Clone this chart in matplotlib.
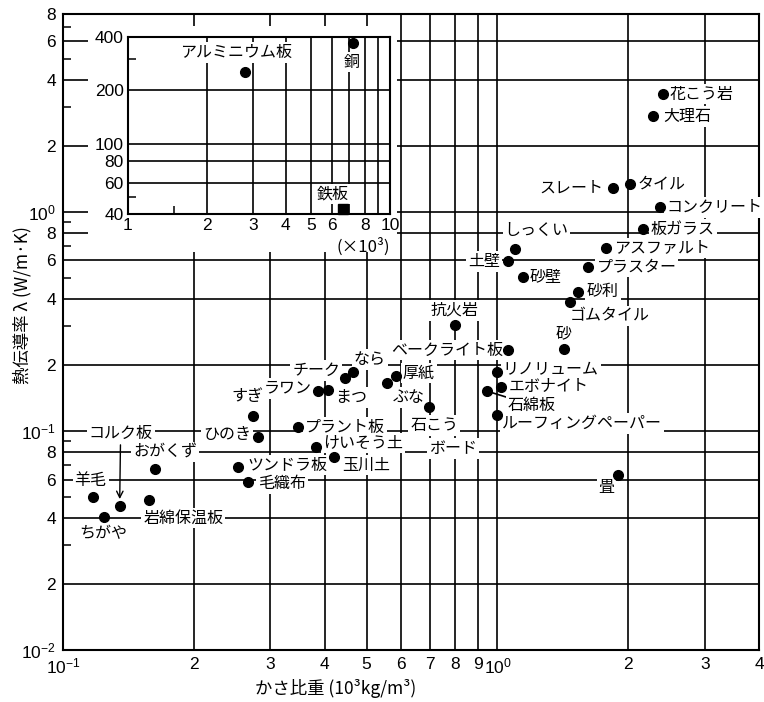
import matplotlib
matplotlib.use('Agg')
import matplotlib.pyplot as plt
from matplotlib.patches import Rectangle
from matplotlib.ticker import FixedLocator, NullFormatter

plt.rcParams['font.family'] = ['Noto Sans CJK JP', 'DejaVu Sans']
plt.rcParams['mathtext.fontset'] = 'custom'
plt.rcParams['mathtext.rm'] = 'Liberation Sans'
plt.rcParams['mathtext.it'] = 'Liberation Sans:italic'

# ---------------- data ----------------
materials = ['花こう岩', '大理石', 'スレート', 'タイル', 'コンクリート', '板ガラス',
             'アスファルト', 'プラスター', 'しっくい', '土壁', '砂壁', '砂利',
             'ゴムタイル', '砂', '抗火岩', 'ベークライト板', 'リノリューム',
             'エボナイト', '石綿板', 'ルーフィングペーパー', '石こう', '厚紙',
             'ぶな', 'なら', 'チーク', 'まつ', 'ラワン', 'すぎ', 'ひのき',
             'プラント板', 'けいそう土', '玉川土', 'ツンドラ板', '毛織布',
             'おがくず', '羊毛', 'コルク板', 'ちがや', '岩綿保温板', '畳']
density = [2.40, 2.28, 1.845, 2.02, 2.37, 2.16,
           1.78, 1.62, 1.10, 1.057, 1.145, 1.53,
           1.47, 1.42, 0.798, 1.057, 0.997,
           1.02, 0.946, 0.997, 0.696, 0.584,
           0.557, 0.465, 0.446, 0.407, 0.386, 0.274, 0.281,
           0.347, 0.382, 0.42, 0.253, 0.267,
           0.163, 0.117, 0.135, 0.124, 0.158, 1.89]
conductivity = [3.45, 2.73, 1.28, 1.34, 1.05, 0.835,
                0.684, 0.56, 0.677, 0.596, 0.504, 0.431,
                0.388, 0.236, 0.304, 0.234, 0.186,
                0.159, 0.152, 0.118, 0.128, 0.178,
                0.165, 0.186, 0.174, 0.154, 0.152, 0.117, 0.094,
                0.104, 0.0844, 0.076, 0.0684, 0.0585,
                0.067, 0.050, 0.0454, 0.0405, 0.0484, 0.063]

inset_materials = ['アルミニウム板', '銅', '鉄板']
inset_density = [2.80, 7.22, 6.62]          # x10^3 kg/m3
inset_conductivity = [254, 370, 42.7]

x_ticks = [0.1, 0.2, 0.3, 0.4, 0.5, 0.6, 0.7, 0.8, 0.9, 1, 2, 3, 4]
x_tick_labels = [r'$10^{-1}$', '2', '3', '4', '5', '6', '7', '8', '9',
                 r'$10^{0}$', '2', '3', '4']
y_ticks = [0.01, 0.02, 0.04, 0.06, 0.08, 0.1, 0.2, 0.4, 0.6, 0.8,
           1, 2, 4, 6, 8]
y_tick_labels = [r'$10^{-2}$', '2', '4', '6', '8', r'$10^{-1}$', '2', '4',
                 '6', '8', r'$10^{0}$', '2', '4', '6', '8']
y_minor = [0.03, 0.05, 0.07, 0.09, 0.3, 0.5, 0.7, 0.9, 3, 5, 7]

inset_x_ticks = [1, 2, 3, 4, 5, 6, 7, 8, 9, 10]
inset_x_labels = ['1', '2', '3', '4', '5', '6', '', '8', '', '10']
inset_y_ticks = [40, 60, 80, 100, 200, 400]
inset_y_labels = ['40', '60', '80', '100', '200', '400']

# ---------------- label placement (pixels) ----------------
label_dx = [7, 10, -10, 7, 6, 8,
            8, 8, 21, -8, 7, 9,
            0, 0, 0, -5, 6,
            7, 21, 5, 5, 7,
            22, 17, -5, 23, -6, -6, -7,
            7, 7, 8, 9, 10,
            10, -2, 1, 0, 34, -11]
label_dy = [0, 0, 0, 0, 0, 0,
            0, 0, 18, 0, 0, 0,
            -14, 15, 15, 0, 2,
            0, -14, -8, -18, 3,
            -14, 12, 8, -8, 3, 19, 2,
            0, 4, -8, 2, -2,
            17, 16, 73, -17, -18, -13]
label_ha = ['left', 'left', 'right', 'left', 'left', 'left',
            'left', 'left', 'center', 'right', 'left', 'left',
            'left', 'center', 'center', 'right', 'left',
            'left', 'left', 'left', 'center', 'left',
            'center', 'center', 'right', 'center', 'right', 'center', 'right',
            'left', 'left', 'left', 'left', 'left',
            'center', 'center', 'center', 'center', 'center', 'center']
inset_dx = [-9, -1, -10]
inset_dy = [19, -19, 15]

W, H = 764, 702
fig = plt.figure(figsize=(W / 100, H / 100), dpi=100)
L, R, T, B = 63, 759, 14, 650
ax = fig.add_axes([L / W, 1 - B / H, (R - L) / W, (B - T) / H])
ax.set_xscale('log')
ax.set_yscale('log')
ax.set_xlim(0.1, 4)
ax.set_ylim(0.01, 8)
ax.set_axisbelow(True)

ax.xaxis.set_major_locator(FixedLocator(x_ticks))
ax.set_xticklabels(x_tick_labels, fontfamily='Liberation Sans', fontsize=12.5)
ax.xaxis.set_minor_formatter(NullFormatter())
ax.xaxis.set_minor_locator(FixedLocator([]))
ax.yaxis.set_major_locator(FixedLocator(y_ticks))
ax.set_yticklabels(y_tick_labels, fontfamily='Liberation Sans', fontsize=12.5)
ax.yaxis.set_minor_locator(FixedLocator(y_minor))
ax.yaxis.set_minor_formatter(NullFormatter())
ax.tick_params(axis='both', which='major', length=0, pad=5)
ax.tick_params(axis='y', which='minor', direction='in', length=6, width=1.1)
ax.grid(True, which='major', color='black', lw=1.2)
for s in ax.spines.values():
    s.set_linewidth(1.5)

# mask the grid behind the inset area
ax.add_patch(Rectangle((88 / W, 1 - 252 / H), (397 - 88) / W, (252 - 26) / H,
                       transform=fig.transFigure, facecolor='white',
                       edgecolor='none', zorder=1))

ax.plot(density, conductivity, 'o', color='black', ms=7, ls='none', zorder=6)

bbox = dict(boxstyle='square,pad=0.12', fc='white', ec='none')
for i, name in enumerate(materials):
    kw = dict(xytext=(label_dx[i], label_dy[i]), textcoords='offset pixels',
              ha=label_ha[i], va='center', fontsize=11.5, bbox=bbox, zorder=5)
    if name == 'コルク板':
        kw['arrowprops'] = dict(arrowstyle='->', lw=1.0, color='black',
                                shrinkA=1, shrinkB=5)
    elif name == '石綿板':
        kw['arrowprops'] = dict(arrowstyle='-', lw=1.2, color='black',
                                shrinkA=0, shrinkB=3)
    ax.annotate(name, (density[i], conductivity[i]), **kw)
    if name == '石こう':
        ax.annotate('ボード', (density[i], conductivity[i]), xytext=(24, -41),
                    textcoords='offset pixels', ha='center', va='center',
                    fontsize=11.5, bbox=bbox, zorder=5)

# axis titles
fig.text(22 / W, 1 - 305 / H, '熱伝導率 λ (W/m·K)', rotation=90,
         ha='center', va='center', fontsize=12.5)
fig.text(336 / W, 1 - 689 / H, 'かさ比重 (10³kg/m³)', ha='center', va='center',
         fontsize=12.5)

# ---------------- inset ----------------
IL, IR, IT, IB = 128, 390, 37, 214
axi = fig.add_axes([IL / W, 1 - IB / H, (IR - IL) / W, (IB - IT) / H], zorder=3)
axi.set_xscale('log')
axi.set_yscale('log')
axi.set_xlim(1, 10)
axi.set_ylim(40, 400)
axi.set_axisbelow(True)
axi.xaxis.set_major_locator(FixedLocator(inset_x_ticks))
axi.set_xticklabels(inset_x_labels, fontfamily='Liberation Sans', fontsize=12.5)
axi.xaxis.set_minor_locator(FixedLocator([1.5]))
axi.xaxis.set_minor_formatter(NullFormatter())
axi.yaxis.set_major_locator(FixedLocator(inset_y_ticks))
axi.set_yticklabels(inset_y_labels, fontfamily='Liberation Sans', fontsize=12.5)
axi.yaxis.set_minor_locator(FixedLocator([50, 300]))
axi.yaxis.set_minor_formatter(NullFormatter())
axi.tick_params(axis='both', which='major', length=0, pad=3)
axi.tick_params(axis='both', which='minor', direction='in', length=6, width=1.1)
axi.grid(True, which='major', color='black', lw=1.2)
for s in axi.spines.values():
    s.set_linewidth(1.5)

markers = ['o', 'o', 's']
for i, name in enumerate(inset_materials):
    axi.plot([inset_density[i]], [inset_conductivity[i]], markers[i],
             color='black', ms=7, clip_on=False, zorder=6)
    axi.annotate(name, (inset_density[i], inset_conductivity[i]),
                 xytext=(inset_dx[i], inset_dy[i]), textcoords='offset pixels',
                 ha='center', va='center', fontsize=11.5, bbox=bbox, zorder=5)

fig.text(363 / W, 1 - 247 / H, '(×10³)', ha='center', va='center', fontsize=12)

fig.savefig('out.png', dpi=100, facecolor='white')
